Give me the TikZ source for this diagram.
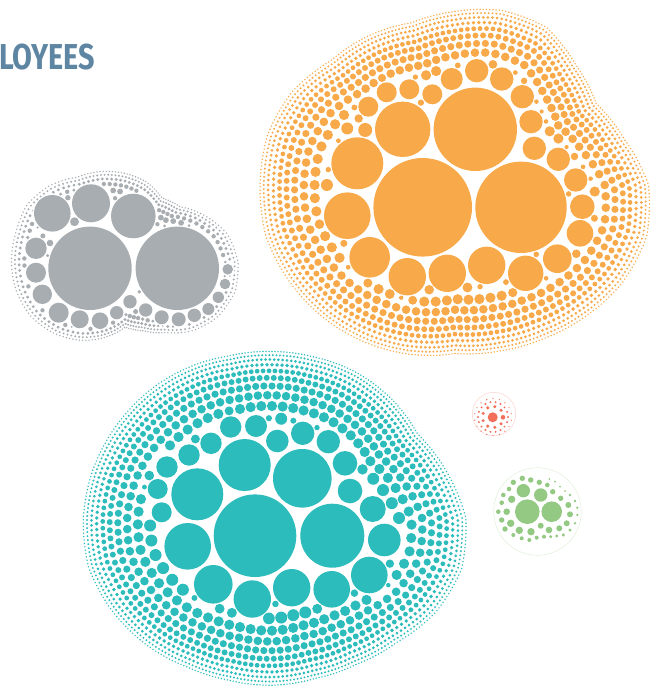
\documentclass[tikz,border=0pt]{standalone}
\usepackage{fontspec}
\newfontfamily\ktitlefont{Fira Sans}
\definecolor{korange}{RGB}{248,169,74}
\definecolor{kteal}{RGB}{45,188,188}
\definecolor{kgray}{RGB}{168,173,177}
\definecolor{kred}{RGB}{242,112,90}
\definecolor{kgreen}{RGB}{147,201,131}
\definecolor{ktitleblue}{RGB}{94,134,163}
\tikzset{ktitle/.style={text=ktitleblue,font=\ktitlefont\bfseries\fontsize{36}{36}\selectfont,inner sep=0pt,xscale=0.8},
  krim/.style={line width=0.5pt}}
\newcommand{\kblob}{%
  \foreach \kx/\ky/\kr in \kmid {\fill[kcol] (\kx,\ky) circle (\kr pt);}
  \foreach \kd/\kr/\kchk [count=\kring] in \krings {
    \pgfmathsetmacro{\kn}{int(2*pi*(\kRm-\kd)/(2*\kr+\kgap))}
    \foreach \kj in {1,...,\kn}{
      \pgfmathsetmacro{\kt}{mod(360/\kn*(\kj+0.5*mod(\kring,2)),360)}
      \pgfmathsetmacro{\ki}{int(\kt/15)}
      \pgfmathsetmacro{\kii}{int(\ki+1)}
      \pgfmathsetmacro{\kf}{\kt/15-\ki}
      \pgfmathsetmacro{\kdist}{\kR[\ki]*(1-\kf)+\kR[\kii]*\kf-\kd}
      \pgfmathsetmacro{\kpx}{\kcx+\kdist*cos(\kt)}
      \pgfmathsetmacro{\kpy}{\kcy+\kdist*sin(\kt)}
      \let\krr\kr
      \ifnum\kchk=1
        \xdef\kclr{100}
        \foreach \kax/\kay/\kar in \kmid {
          \pgfmathsetmacro{\kc}{min(10*veclen((\kpx-\kax)/10,(\kpy-\kay)/10)-\kar-1,\kclr)}
          \xdef\kclr{\kc}
        }
        \pgfmathsetmacro{\krr}{min(\kr,\kclr)}
      \fi
      \pgfmathsetmacro{\kok}{int(\krr>=0.35*\kr)}
      \ifnum\kok=1 \fill[kcol] (\kpx,\kpy) circle (\krr pt);\fi
    }
  }
}
\begin{document}
\begin{tikzpicture}[x=1pt,y=-1pt]
\useasboundingbox (0,0) rectangle (660,690);
\pgfmathsetmacro{\kgap}{1.6}
\node[ktitle,anchor=base west] (title) at (-1,70) {LOYEES};
% orange
\pgfmathsetmacro{\kcx}{455}\pgfmathsetmacro{\kcy}{185}\pgfmathsetmacro{\kRm}{182}
\def\kR{{195,199.9,195.3,186.8,178.8,173.3,170,176.7,182.7,188.5,193.2,197.4,196.4,195.5,189,177.2,173.9,169.4,175,182.2,183.8,172,164.5,177,195}}
\def\kmid{422.7/207.3/49.3,521/207.3/45.7,475.3/129.3/41.7,402.7/129.3/27.7,357.3/163.3/26,347.3/215.7/23.3,369.7/257.3/20.3,407.3/276.7/18.7,447.3/273.3/18.7,486.7/265.3/18.7,525.7/273.3/17.7,557.3/258.7/14.3,580/233.3/13.3,582.3/206.7/12.3,575.7/180/11.7,558.3/159.3/11.7,534.3/148.3/11.7,531/121.7/11.7,522.3/96.7/11.7,501.7/79/11.7,476.7/70.7/11.7,451.7/79/11,432.3/94.3/10,409.3/89.3/10,386.7/92.3/10,368.3/106.7/10}
\def\krings{1.5/0.8/0,5.2/1.1/0,9.6/1.5/0,14.8/1.9/0,20.9/2.4/0,27.9/3.0/0,36/3.6/1,45.3/4.3/1,56/5.1/1,68.3/6/1,82.5/7/1}
\colorlet{kcol}{korange}
\kblob
% teal
\pgfmathsetmacro{\kcx}{272}\pgfmathsetmacro{\kcy}{518}\pgfmathsetmacro{\kRm}{180}
\def\kR{{195.3,197.8,190.3,177.6,170.4,167.6,168.7,169.3,173,180.1,186.4,191.4,190.1,187,182.7,178.6,174,169.2,168,167.9,169.7,170.2,169.6,182,195.3}}
\def\kmid{255/535.7/41.3,332.3/535.7/32,244.7/465/26,302.3/478.3/29.3,197.3/494.3/26,187.7/546.3/23.3,213.3/584.3/19.3,252.3/599/18.7,291.7/587.7/18.7,331.7/589.3/18.3,369.3/575/18.3,384.3/540/16.3,372.7/509/13,350/491/12.3,345/463.3/12.3,328.3/441.7/11.7,302.7/433.3/11.7,277.3/441/11.3,256/426/11,230.7/427/10.7,211/443.3/10.7,189/455/10.7,167/467/10.7,157.7/489/10,161.7/512.3/10}
\colorlet{kcol}{kteal}
\kblob
% gray
\pgfmathsetmacro{\kcx}{125}\pgfmathsetmacro{\kcy}{262}\pgfmathsetmacro{\kRm}{100}
\def\kR{{114.6,115.5,109.5,98.3,83,72.7,66.6,79.6,91.8,102.2,110.2,114,115.2,114.6,115,109,99.1,95.2,90.1,84.3,75.5,79.5,94,107.8,114.6}}
\def\kmid{90/268.3/41.7,177.3/268.3/41.7,52.3/213.3/18.3,91/203.3/19,133.3/216/22.3,36/248.3/10.7,36/272.7/10,42.3/294.3/9.7,58.7/312.7/10,79.7/319.3/9,100/320.7/8.3,116.7/312.7/6.7,130/301.7/6.7,145.7/310/6.7,161.7/317.3/7,178.7/319.3/7,194.3/315.3/6.7,208.3/309/6,218.3/297.3/5.7,225/284/5.3,227.7/269.3/5.3}
\def\krings{1.5/0.8/0,5/1.1/1,9.2/1.6/1,14.4/2.2/1,20.8/2.9/1,28.5/3.6/1,37.3/4.3/1,47/5/1}
\colorlet{kcol}{kgray}
\kblob
% red
\draw[krim,kred!30](494,414) circle (21.7pt);
\fill[kred](492.7,417.3) circle (5pt);
\fill[kred](503,417.3) circle (2.3pt);
\foreach \ka in {40,80,...,320}{\fill[kred]({493+10.5*cos(\ka)},{417+10.5*sin(\ka)}) circle (1.7pt);}
\foreach \ka in {0,20,...,340}{\fill[kred]({493+15*cos(\ka)},{417+15*sin(\ka)}) circle (1.1pt);}
\foreach \ka in {10,30,...,350}{\fill[kred]({493+18.5*cos(\ka)},{417+18.5*sin(\ka)}) circle (0.7pt);}
% green
\draw[krim,kgreen!30](537.5,511.5) circle (43.8pt);
\foreach \kx/\ky/\kr in {527.3/511.7/12.3,551.7/511.7/10.3,523.3/490.7/6.7,540.7/495/6.7,513.3/482.3/2.7,522.3/478.3/2.7,530.7/480/2.7,539.3/482.3/2.7,547.3/485/2.3,552.7/491.7/2.7,509/489/2.3,503.3/495/2.3,511.7/499.3/3.7,501.7/502.7/2.3,506.7/511.7/3.3,498.3/511.7/2.3,501.7/520/2.7,510.7/523.3/3.7,505/529/2.7,519.3/530.3/3.7,531/531.7/3.7,540.7/525.7/3,549/530/3.3,559.3/528.3/3,566.7/523.3/3,570/514.3/3,568.3/505/3,560.7/498.3/2.7,513.3/535/2,521.7/538.3/2,529.3/540/2,536.7/537.7/2,544/536.7/2,550.7/536.7/1.7,556.7/536/1.7,563.3/535/1.7,570/530/1.7,575/523.3/1.3,577.3/515/1.3,577.3/507.7/1.3,575/501/1.3,570/495/1.3,565/491/1,560/486.7/1,555/481.7/1,549.3/479/1}{\fill[kgreen](\kx,\ky) circle (\kr pt);}
\end{tikzpicture}
\end{document}
